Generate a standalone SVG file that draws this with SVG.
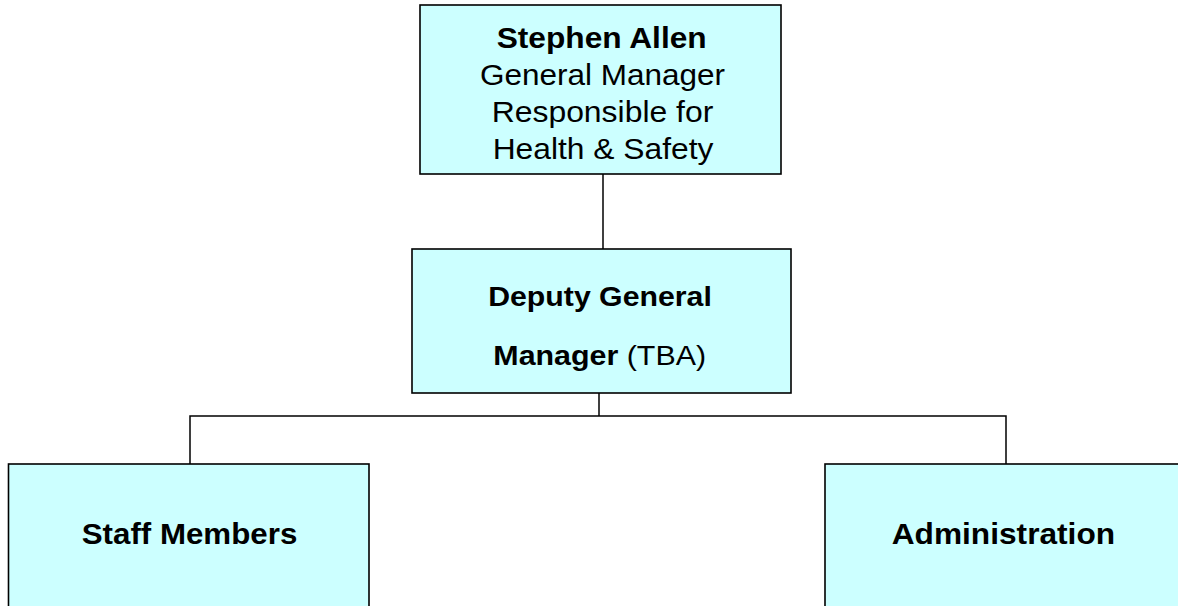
<svg xmlns="http://www.w3.org/2000/svg" width="1178" height="606" viewBox="0 0 1178 606">
<style>
.box{fill:#CCFFFF;stroke:#000;stroke-width:1.6}
.con{fill:none;stroke:#000;stroke-width:1.5}
text{font-family:"Liberation Sans",Arial,sans-serif;fill:#000;text-anchor:middle}
.b{font-weight:bold}
.t31{font-size:30px}
.t30{font-size:28.5px}
</style>
<rect width="1178" height="606" fill="#fff"/>
<g id="connectors">
<path class="con" d="M603,174 V249"/>
<path class="con" d="M599,393 V416"/>
<path class="con" d="M190,464 V416 H1006 V464"/>
</g>
<g id="stephen-allen">
<rect class="box" x="420" y="5" width="361" height="169"/>
<text class="t31 b" x="601.7" y="48" textLength="210" lengthAdjust="spacingAndGlyphs">Stephen Allen</text>
<text class="t31" x="602.5" y="85" textLength="245" lengthAdjust="spacingAndGlyphs">General Manager</text>
<text class="t31" x="602.5" y="122" textLength="221.6" lengthAdjust="spacingAndGlyphs">Responsible for</text>
<text class="t31" x="603" y="158.5" textLength="220.7" lengthAdjust="spacingAndGlyphs">Health &amp; Safety</text>
</g>
<g id="deputy-gm">
<rect class="box" x="412" y="249" width="379" height="144"/>
<text class="t30 b" x="600" y="305.5" textLength="223.7" lengthAdjust="spacingAndGlyphs">Deputy General</text>
<text class="t30" x="599.7" y="365" textLength="212.7" lengthAdjust="spacingAndGlyphs"><tspan class="b">Manager</tspan> (TBA)</text>
</g>
<g id="staff-members">
<rect class="box" x="8.5" y="464" width="360.5" height="160"/>
<text class="t31 b" x="189.5" y="544" textLength="215.6" lengthAdjust="spacingAndGlyphs">Staff Members</text>
</g>
<g id="administration">
<rect class="box" x="825" y="464" width="400" height="160"/>
<text class="t31 b" x="1003.4" y="544" textLength="223.3" lengthAdjust="spacingAndGlyphs">Administration</text>
</g>
</svg>
